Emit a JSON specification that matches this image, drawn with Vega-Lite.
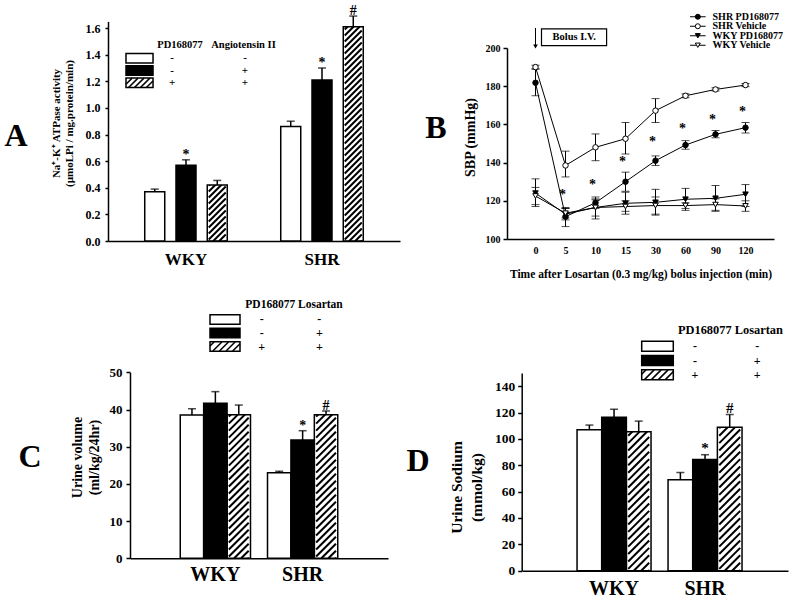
{
"$schema": "https://vega.github.io/schema/vega-lite/v6.json",
"width": 800, "height": 600,
"autosize": {"type": "none"},
"padding": 0,
"background": "white",
"config": {
  "view": {"stroke": null},
  "font": "Liberation Serif",
  "axis": {"labelFont": "Liberation Serif", "titleFont": "Liberation Serif", "labelFontWeight": "bold", "titleFontWeight": "bold", "labelColor": "black", "titleColor": "black", "domainColor": "black", "tickColor": "black", "domainWidth": 1.5, "tickWidth": 1.5, "grid": false, "labelOverlap": false, "labelFlush": false},
  "text": {"font": "Liberation Serif", "fontWeight": "bold", "color": "black"}
},
"datasets": {
  "one": [{"k": 1}],
  "a": [
    {"group": "WKY", "trt": "none", "value": 0.37, "hi": 0.39, "sig": ""},
    {"group": "WKY", "trt": "ang", "value": 0.57, "hi": 0.61, "sig": "*"},
    {"group": "WKY", "trt": "pd", "value": 0.42, "hi": 0.455, "sig": ""},
    {"group": "SHR", "trt": "none", "value": 0.86, "hi": 0.9, "sig": ""},
    {"group": "SHR", "trt": "ang", "value": 1.21, "hi": 1.3, "sig": "*"},
    {"group": "SHR", "trt": "pd", "value": 1.61, "hi": 1.69, "sig": "#"}
  ],
  "a_leg": [
    {"trt": "none", "PD168077": "-", "Angiotensin II": "-"},
    {"trt": "ang", "PD168077": "-", "Angiotensin II": "+"},
    {"trt": "pd", "PD168077": "+", "Angiotensin II": "+"}
  ],
  "c": [
    {"group": "WKY", "trt": "none", "value": 38.5, "hi": 40.2, "sig": ""},
    {"group": "WKY", "trt": "ang", "value": 41.7, "hi": 44.8, "sig": ""},
    {"group": "WKY", "trt": "pd", "value": 38.6, "hi": 41.2, "sig": ""},
    {"group": "SHR", "trt": "none", "value": 23.0, "hi": 23.4, "sig": ""},
    {"group": "SHR", "trt": "ang", "value": 31.8, "hi": 34.3, "sig": "*"},
    {"group": "SHR", "trt": "pd", "value": 38.6, "hi": 39.6, "sig": "#"}
  ],
  "c_leg": [
    {"trt": "none", "PD168077": "-", "Losartan": "-"},
    {"trt": "ang", "PD168077": "-", "Losartan": "+"},
    {"trt": "pd", "PD168077": "+", "Losartan": "+"}
  ],
  "d": [
    {"group": "WKY", "trt": "none", "value": 107, "hi": 110.5, "sig": ""},
    {"group": "WKY", "trt": "ang", "value": 116.5, "hi": 122.5, "sig": ""},
    {"group": "WKY", "trt": "pd", "value": 105.5, "hi": 113.5, "sig": ""},
    {"group": "SHR", "trt": "none", "value": 69, "hi": 74.5, "sig": ""},
    {"group": "SHR", "trt": "ang", "value": 84.3, "hi": 88, "sig": "*"},
    {"group": "SHR", "trt": "pd", "value": 108.8, "hi": 118.5, "sig": "#"}
  ],
  "d_leg": [
    {"trt": "none", "PD168077": "-", "Losartan": "-"},
    {"trt": "ang", "PD168077": "-", "Losartan": "+"},
    {"trt": "pd", "PD168077": "+", "Losartan": "+"}
  ],
  "b": [
    {"series": "SHR PD168077", "time": 0, "sbp": 181.8, "lo": 175, "hi": 189},
    {"series": "SHR PD168077", "time": 5, "sbp": 111.7, "lo": 106.5, "hi": 116.5},
    {"series": "SHR PD168077", "time": 10, "sbp": 119, "lo": 116, "hi": 122},
    {"series": "SHR PD168077", "time": 15, "sbp": 130, "lo": 125, "hi": 135},
    {"series": "SHR PD168077", "time": 30, "sbp": 141, "lo": 138.5, "hi": 143.5},
    {"series": "SHR PD168077", "time": 60, "sbp": 149.2, "lo": 147, "hi": 151.5},
    {"series": "SHR PD168077", "time": 90, "sbp": 154.8, "lo": 153, "hi": 156.8},
    {"series": "SHR PD168077", "time": 120, "sbp": 158.3, "lo": 155.5, "hi": 161},
    {"series": "SHR Vehicle", "time": 0, "sbp": 190, "lo": 189, "hi": 191},
    {"series": "SHR Vehicle", "time": 5, "sbp": 138.5, "lo": 132.5, "hi": 146},
    {"series": "SHR Vehicle", "time": 10, "sbp": 148, "lo": 141, "hi": 155},
    {"series": "SHR Vehicle", "time": 15, "sbp": 152.5, "lo": 144.5, "hi": 161},
    {"series": "SHR Vehicle", "time": 30, "sbp": 167.2, "lo": 161, "hi": 173.5},
    {"series": "SHR Vehicle", "time": 60, "sbp": 175, "lo": 174, "hi": 176},
    {"series": "SHR Vehicle", "time": 90, "sbp": 178.3, "lo": 177.5, "hi": 179.2},
    {"series": "SHR Vehicle", "time": 120, "sbp": 180.6, "lo": 179.8, "hi": 181.4},
    {"series": "WKY PD168077", "time": 0, "sbp": 124, "lo": 117, "hi": 131.5},
    {"series": "WKY PD168077", "time": 5, "sbp": 113, "lo": 110, "hi": 116},
    {"series": "WKY PD168077", "time": 10, "sbp": 116.5, "lo": 112, "hi": 121},
    {"series": "WKY PD168077", "time": 15, "sbp": 118.7, "lo": 113, "hi": 124.5},
    {"series": "WKY PD168077", "time": 30, "sbp": 119.2, "lo": 112.5, "hi": 126},
    {"series": "WKY PD168077", "time": 60, "sbp": 120.8, "lo": 115, "hi": 126.5},
    {"series": "WKY PD168077", "time": 90, "sbp": 121.3, "lo": 115, "hi": 128},
    {"series": "WKY PD168077", "time": 120, "sbp": 123.4, "lo": 117, "hi": 128.5},
    {"series": "WKY Vehicle", "time": 0, "sbp": 122.5, "lo": 118, "hi": 127},
    {"series": "WKY Vehicle", "time": 5, "sbp": 113.5, "lo": 111, "hi": 116},
    {"series": "WKY Vehicle", "time": 10, "sbp": 116.5, "lo": 110.5, "hi": 120.5},
    {"series": "WKY Vehicle", "time": 15, "sbp": 117, "lo": 114.5, "hi": 120},
    {"series": "WKY Vehicle", "time": 30, "sbp": 117.5, "lo": 113, "hi": 122},
    {"series": "WKY Vehicle", "time": 60, "sbp": 117.5, "lo": 116, "hi": 119},
    {"series": "WKY Vehicle", "time": 90, "sbp": 118, "lo": 114.5, "hi": 121},
    {"series": "WKY Vehicle", "time": 120, "sbp": 117.3, "lo": 114.5, "hi": 120}
  ],
  "b_sig": [
    {"time": 5, "sbp": 124}, {"time": 10, "sbp": 129.5}, {"time": 15, "sbp": 141.4},
    {"time": 30, "sbp": 151.8}, {"time": 60, "sbp": 158.8}, {"time": 90, "sbp": 163.2}, {"time": 120, "sbp": 167.5}
  ],
  "b_leg": [
    {"series": "SHR PD168077"}, {"series": "SHR Vehicle"}, {"series": "WKY PD168077"}, {"series": "WKY Vehicle"}
  ]
},
"resolve": {"scale": {"x": "independent", "y": "independent", "xOffset": "independent", "fill": "independent", "shape": "independent"}, "axis": {"x": "independent", "y": "independent"}},
"layer": [
  {
    "data": {"name": "a"},
    "encoding": {
      "x": {"field": "group", "type": "nominal", "scale": {"type": "band", "domain": ["WKY", "SHR"], "range": [108, 400], "paddingInner": 0.316, "paddingOuter": 0.2315}, "axis": {"orient": "bottom", "offset": -359, "title": null, "labelFontSize": 17, "ticks": false, "tickSize": 0, "labelPadding": 10, "labelAngle": 0}},
      "xOffset": {"field": "trt", "type": "nominal", "scale": {"type": "band", "domain": ["none", "ang", "pd"], "paddingInner": 0.36, "paddingOuter": 0.168}},
      "y": {"field": "value", "type": "quantitative", "scale": {"domain": [0, 1.65], "range": [241, 21.4], "nice": false}, "axis": {"orient": "left", "offset": -108, "values": [0, 0.2, 0.4, 0.6, 0.8, 1.0, 1.2, 1.4, 1.6], "format": ".1f", "title": ["Na⁺-K⁺ ATPase activity", "(µmoLPi / mg.protein/min)"], "titleFontSize": 11, "titleLineHeight": 13, "labelFontSize": 12, "tickSize": 3, "labelPadding": 5, "titlePadding": 11, "titleY": 123}}
    },
    "layer": [
      {"transform": [{"filter": "datum.trt === 'pd'"}], "mark": {"type": "point", "shape": "M0.8 0L0.85 -0.05M0.2 0L0.85 -0.65M-0.4 0L0.85 -1.25M-0.85 -0.15L0.85 -1.85M-0.85 -0.75L0.85 -2.45M-0.85 -1.35L0.85 -3.05M-0.85 -1.95L0.85 -3.65M-0.85 -2.55L0.85 -4.25M-0.85 -3.15L0.85 -4.85M-0.85 -3.75L0.85 -5.45M-0.85 -4.35L0.85 -6.05M-0.85 -4.95L0.85 -6.65M-0.85 -5.55L0.85 -7.25M-0.85 -6.15L0.85 -7.85M-0.85 -6.75L0.85 -8.45M-0.85 -7.35L0.85 -9.05M-0.85 -7.95L0.85 -9.65M-0.85 -8.55L0.85 -10.25M-0.85 -9.15L0.85 -10.85M-0.85 -9.75L0.85 -11.45M-0.85 -10.35L0.85 -12.05M-0.85 -10.95L0.85 -12.65M-0.85 -11.55L0.85 -13.25M-0.85 -12.15L0.85 -13.85M-0.85 -12.75L0.85 -14.45M-0.85 -13.35L0.85 -15.05M-0.85 -13.95L0.85 -15.65M-0.85 -14.55L0.85 -16.25M-0.85 -15.15L0.85 -16.85M-0.85 -15.75L0.85 -17.45M-0.85 -16.35L0.85 -18.05M-0.85 -16.95L0.85 -18.65M-0.85 -17.55L0.85 -19.25M-0.85 -18.15L0.85 -19.85M-0.85 -18.75L0.85 -20.45M-0.85 -19.35L0.85 -21.05M-0.85 -19.95L0.85 -21.65M-0.85 -20.55L0.6 -22M-0.85 -21.15L0 -22M-0.85 -21.75L-0.6 -22", "size": 400, "filled": false, "stroke": "black", "strokeWidth": 2, "opacity": 1}, "encoding": {"y": {"datum": 0, "type": "quantitative"}}},
      {"transform": [{"filter": "datum.trt === 'pd'"}], "mark": {"type": "bar", "fill": "white", "strokeWidth": 0}, "encoding": {"y2": {"datum": 1.66}}},
      {"mark": {"type": "bar", "stroke": "black", "strokeWidth": 1.5}, "encoding": {"fill": {"field": "trt", "type": "nominal", "scale": {"domain": ["none", "ang", "pd"], "range": ["white", "black", "transparent"]}, "legend": null}}},
      {"mark": {"type": "rule", "color": "black", "strokeWidth": 1.5}, "encoding": {"y2": {"field": "hi"}}},
      {"mark": {"type": "tick", "orient": "horizontal", "size": 8, "thickness": 1.5, "color": "black"}, "encoding": {"y": {"field": "hi", "type": "quantitative"}}},
      {"mark": {"type": "text", "baseline": "alphabetic", "dy": -1, "fontSize": 14, "fill": "black"}, "encoding": {"y": {"field": "hi", "type": "quantitative"}, "text": {"field": "sig"}}}
    ]
  },
  {
    "data": {"name": "a_leg"},
    "encoding": {"y": {"field": "trt", "type": "nominal", "scale": {"type": "point", "domain": ["none", "ang", "pd"], "range": [52, 89]}, "axis": null}},
    "layer": [
      {"mark": {"type": "bar", "height": 9.5, "stroke": "black", "strokeWidth": 1.5}, "encoding": {"x": {"datum": 0, "type": "quantitative", "scale": {"domain": [0, 1], "range": [126, 277], "nice": false, "zero": false}, "axis": null}, "x2": {"datum": 0.179}, "fill": {"field": "trt", "type": "nominal", "scale": {"domain": ["none", "ang", "pd"], "range": ["white", "black", "white"]}, "legend": null}}},
      {"transform": [{"filter": "datum.trt === 'pd'"}], "mark": {"type": "point", "shape": "M0.51 0.35L1 -0.14M0.07 0.35L0.77 -0.35M-0.37 0.35L0.33 -0.35M-0.81 0.35L-0.11 -0.35M-1 0.1L-0.55 -0.35", "size": 729, "filled": false, "stroke": "black", "strokeWidth": 1.5, "opacity": 1}, "encoding": {"x": {"datum": 0.0894, "type": "quantitative", "axis": null}}},
      {"mark": {"type": "text", "fontSize": 11, "fill": "black"}, "encoding": {"x": {"datum": 0.305, "type": "quantitative", "axis": null}, "text": {"field": "PD168077"}}},
      {"mark": {"type": "text", "fontSize": 11, "fill": "black"}, "encoding": {"x": {"datum": 0.788, "type": "quantitative", "axis": null}, "text": {"field": "Angiotensin II"}}},
      {"data": {"name": "one"}, "mark": {"type": "text", "fontSize": 10.5, "dy": -13, "fill": "black"}, "encoding": {"x": {"datum": 0.358, "type": "quantitative", "axis": null}, "y": {"datum": "none", "type": "nominal", "axis": null}, "text": {"value": "PD168077"}}},
      {"data": {"name": "one"}, "mark": {"type": "text", "fontSize": 10.5, "dy": -13, "fill": "black"}, "encoding": {"x": {"datum": 0.778, "type": "quantitative", "axis": null}, "y": {"datum": "none", "type": "nominal", "axis": null}, "text": {"value": "Angiotensin II"}}}
    ]
  },
  {
    "data": {"name": "b"},
    "encoding": {
      "x": {"field": "time", "type": "ordinal", "scale": {"type": "point", "domain": [0, 5, 10, 15, 30, 60, 90, 120], "range": [507, 774], "padding": 0.95}, "axis": {"orient": "bottom", "offset": -361, "title": "Time after Losartan (0.3 mg/kg) bolus injection (min)", "titleFontSize": 11.5, "labelFontSize": 10, "ticks": false, "tickSize": 0, "labelPadding": 6, "titlePadding": 13, "labelAngle": 0}},
      "y": {"field": "sbp", "type": "quantitative", "scale": {"domain": [100, 200], "range": [239, 48], "nice": false, "zero": false}, "axis": {"orient": "left", "offset": -507, "values": [100, 120, 140, 160, 180, 200], "title": "SBP (mmHg)", "titleFontSize": 14, "labelFontSize": 10, "tickSize": 4, "labelPadding": 3, "titlePadding": 8, "titleY": 137}}
    },
    "layer": [
      {"mark": {"type": "rule", "color": "black", "strokeWidth": 1}, "encoding": {"y": {"field": "lo", "type": "quantitative"}, "y2": {"field": "hi"}}},
      {"mark": {"type": "tick", "orient": "horizontal", "size": 8, "thickness": 1, "color": "black"}, "encoding": {"y": {"field": "lo", "type": "quantitative"}}},
      {"mark": {"type": "tick", "orient": "horizontal", "size": 8, "thickness": 1, "color": "black"}, "encoding": {"y": {"field": "hi", "type": "quantitative"}}},
      {"mark": {"type": "line", "color": "black", "strokeWidth": 1}, "encoding": {"detail": {"field": "series", "type": "nominal"}}},
      {"mark": {"type": "point", "filled": true, "opacity": 1, "stroke": "black", "strokeWidth": 1, "size": 30}, "encoding": {
        "shape": {"field": "series", "type": "nominal", "scale": {"domain": ["SHR PD168077", "SHR Vehicle", "WKY PD168077", "WKY Vehicle"], "range": ["circle", "circle", "triangle-down", "triangle-down"]}, "legend": null},
        "fill": {"field": "series", "type": "nominal", "scale": {"domain": ["SHR PD168077", "SHR Vehicle", "WKY PD168077", "WKY Vehicle"], "range": ["black", "white", "black", "white"]}, "legend": null}}},
      {"data": {"name": "b_sig"}, "mark": {"type": "text", "text": "*", "fontSize": 14, "dx": -3, "dy": 6, "baseline": "alphabetic", "fill": "black"}}
    ]
  },
  {
    "data": {"name": "one"},
    "layer": [
      {"mark": {"type": "rect", "fill": "white", "stroke": "black", "strokeWidth": 1.2}, "encoding": {"x": {"datum": 0.2, "type": "quantitative", "scale": {"domain": [-0.95, 7.95], "range": [507, 774], "nice": false, "zero": false}, "axis": null}, "x2": {"datum": 2.37}, "y": {"datum": 210, "type": "quantitative", "scale": {"domain": [100, 200], "range": [239, 48], "nice": false, "zero": false}, "axis": null}, "y2": {"datum": 201.2}}},
      {"mark": {"type": "text", "fontSize": 10.5, "fill": "black"}, "encoding": {"x": {"datum": 1.29, "type": "quantitative", "axis": null}, "y": {"datum": 205.6, "type": "quantitative", "axis": null}, "text": {"value": "Bolus I.V."}}},
      {"mark": {"type": "rule", "color": "black", "strokeWidth": 1}, "encoding": {"x": {"datum": 0, "type": "quantitative", "axis": null}, "y": {"datum": 210.5, "type": "quantitative", "axis": null}, "y2": {"datum": 201}}},
      {"mark": {"type": "point", "shape": "triangle-down", "filled": true, "color": "black", "opacity": 1, "size": 22}, "encoding": {"x": {"datum": 0, "type": "quantitative", "axis": null}, "y": {"datum": 200.8, "type": "quantitative", "axis": null}}}
    ]
  },
  {
    "data": {"name": "b_leg"},
    "encoding": {"y": {"field": "series", "type": "nominal", "scale": {"type": "point", "domain": ["SHR PD168077", "SHR Vehicle", "WKY PD168077", "WKY Vehicle"], "range": [12, 50]}, "axis": null}},
    "layer": [
      {"mark": {"type": "rule", "color": "black", "strokeWidth": 1}, "encoding": {"x": {"datum": 0, "type": "quantitative", "scale": {"domain": [0, 1], "range": [690, 782], "nice": false, "zero": false}, "axis": null}, "x2": {"datum": 0.17}}},
      {"mark": {"type": "point", "filled": true, "opacity": 1, "stroke": "black", "strokeWidth": 1, "size": 25}, "encoding": {"x": {"datum": 0.085, "type": "quantitative", "axis": null},
        "shape": {"field": "series", "type": "nominal", "scale": {"domain": ["SHR PD168077", "SHR Vehicle", "WKY PD168077", "WKY Vehicle"], "range": ["circle", "circle", "triangle-down", "triangle-down"]}, "legend": null},
        "fill": {"field": "series", "type": "nominal", "scale": {"domain": ["SHR PD168077", "SHR Vehicle", "WKY PD168077", "WKY Vehicle"], "range": ["black", "white", "black", "white"]}, "legend": null}}},
      {"mark": {"type": "text", "align": "left", "fontSize": 10, "fill": "black"}, "encoding": {"x": {"datum": 0.245, "type": "quantitative", "axis": null}, "text": {"field": "series"}}}
    ]
  },
  {
    "data": {"name": "c"},
    "encoding": {
      "x": {"field": "group", "type": "nominal", "scale": {"type": "band", "domain": ["WKY", "SHR"], "range": [130, 388], "paddingInner": 0.195, "paddingOuter": 0.576}, "axis": {"orient": "bottom", "offset": -41.7, "title": null, "labelFontSize": 20, "ticks": false, "tickSize": 0, "labelPadding": 6, "labelAngle": 0}},
      "xOffset": {"field": "trt", "type": "nominal", "scale": {"type": "band", "domain": ["none", "ang", "pd"], "paddingInner": 0, "paddingOuter": 0}},
      "y": {"field": "value", "type": "quantitative", "scale": {"domain": [0, 50], "range": [558.3, 372.3], "nice": false}, "axis": {"orient": "left", "offset": -130, "values": [0, 10, 20, 30, 40, 50], "title": ["Urine volume", "(ml/kg/24hr)"], "titleFontSize": 14, "titleLineHeight": 17, "labelFontSize": 13, "tickSize": 4, "labelPadding": 4, "titlePadding": 8, "titleY": 457}}
    },
    "layer": [
      {"transform": [{"filter": "datum.trt === 'pd'"}], "mark": {"type": "point", "shape": "M0.8 0L0.85 -0.05M0.2 0L0.85 -0.65M-0.4 0L0.85 -1.25M-0.85 -0.15L0.85 -1.85M-0.85 -0.75L0.85 -2.45M-0.85 -1.35L0.85 -3.05M-0.85 -1.95L0.85 -3.65M-0.85 -2.55L0.85 -4.25M-0.85 -3.15L0.85 -4.85M-0.85 -3.75L0.85 -5.45M-0.85 -4.35L0.85 -6.05M-0.85 -4.95L0.85 -6.65M-0.85 -5.55L0.85 -7.25M-0.85 -6.15L0.85 -7.85M-0.85 -6.75L0.85 -8.45M-0.85 -7.35L0.85 -9.05M-0.85 -7.95L0.85 -9.65M-0.85 -8.55L0.85 -10.25M-0.85 -9.15L0.85 -10.85M-0.85 -9.75L0.85 -11.45M-0.85 -10.35L0.85 -12.05M-0.85 -10.95L0.85 -12.65M-0.85 -11.55L0.6 -13M-0.85 -12.15L0 -13M-0.85 -12.75L-0.6 -13", "size": 544, "filled": false, "stroke": "black", "strokeWidth": 2, "opacity": 1}, "encoding": {"y": {"datum": 0, "type": "quantitative"}}},
      {"transform": [{"filter": "datum.trt === 'pd'"}], "mark": {"type": "bar", "fill": "white", "strokeWidth": 0}, "encoding": {"y2": {"datum": 41}}},
      {"mark": {"type": "bar", "stroke": "black", "strokeWidth": 1.5}, "encoding": {"fill": {"field": "trt", "type": "nominal", "scale": {"domain": ["none", "ang", "pd"], "range": ["white", "black", "transparent"]}, "legend": null}}},
      {"mark": {"type": "rule", "color": "black", "strokeWidth": 1.5}, "encoding": {"y2": {"field": "hi"}}},
      {"mark": {"type": "tick", "orient": "horizontal", "size": 8, "thickness": 1.5, "color": "black"}, "encoding": {"y": {"field": "hi", "type": "quantitative"}}},
      {"mark": {"type": "text", "baseline": "alphabetic", "dy": -1, "fontSize": 14, "fill": "black"}, "encoding": {"y": {"field": "hi", "type": "quantitative"}, "text": {"field": "sig"}}}
    ]
  },
  {
    "data": {"name": "c_leg"},
    "encoding": {"y": {"field": "trt", "type": "nominal", "scale": {"type": "point", "domain": ["none", "ang", "pd"], "range": [312.7, 353.3]}, "axis": null}},
    "layer": [
      {"mark": {"type": "bar", "height": 9.5, "stroke": "black", "strokeWidth": 1.5}, "encoding": {"x": {"datum": 0, "type": "quantitative", "scale": {"domain": [0, 1], "range": [210, 343], "nice": false, "zero": false}, "axis": null}, "x2": {"datum": 0.2256}, "fill": {"field": "trt", "type": "nominal", "scale": {"domain": ["none", "ang", "pd"], "range": ["white", "black", "white"]}, "legend": null}}},
      {"transform": [{"filter": "datum.trt === 'pd'"}], "mark": {"type": "point", "shape": "M0.51 0.3L1 -0.19M0.07 0.3L0.67 -0.3M-0.37 0.3L0.23 -0.3M-0.81 0.3L-0.21 -0.3M-1 -0.03L-0.73 -0.3", "size": 900, "filled": false, "stroke": "black", "strokeWidth": 1.5, "opacity": 1}, "encoding": {"x": {"datum": 0.1128, "type": "quantitative", "axis": null}}},
      {"mark": {"type": "text", "fontSize": 12, "fill": "black"}, "encoding": {"x": {"datum": 0.389, "type": "quantitative", "axis": null}, "text": {"field": "PD168077"}}},
      {"mark": {"type": "text", "fontSize": 12, "fill": "black"}, "encoding": {"x": {"datum": 0.822, "type": "quantitative", "axis": null}, "text": {"field": "Losartan"}}},
      {"data": {"name": "one"}, "mark": {"type": "text", "fontSize": 11.5, "dy": -14.4, "fill": "black"}, "encoding": {"x": {"datum": 0.632, "type": "quantitative", "axis": null}, "y": {"datum": "none", "type": "nominal", "axis": null}, "text": {"value": "PD168077 Losartan"}}}
    ]
  },
  {
    "data": {"name": "d"},
    "encoding": {
      "x": {"field": "group", "type": "nominal", "scale": {"type": "band", "domain": ["WKY", "SHR"], "range": [522, 788], "paddingInner": 0.187, "paddingOuter": 0.555, "align": 0.545}, "axis": {"orient": "bottom", "offset": -29.3, "title": null, "labelFontSize": 20, "ticks": false, "tickSize": 0, "labelPadding": 8, "labelAngle": 0}},
      "xOffset": {"field": "trt", "type": "nominal", "scale": {"type": "band", "domain": ["none", "ang", "pd"], "paddingInner": 0, "paddingOuter": 0}},
      "y": {"field": "value", "type": "quantitative", "scale": {"domain": [0, 150], "range": [570.7, 373], "nice": false}, "axis": {"orient": "left", "offset": -521.7, "values": [0, 20, 40, 60, 80, 100, 120, 140], "title": ["Urine Sodium", "(mmol/kg)"], "titleFontSize": 15.5, "titleLineHeight": 20, "labelFontSize": 13.5, "tickSize": 4, "labelPadding": 3, "titlePadding": 10, "titleY": 487}}
    },
    "layer": [
      {"transform": [{"filter": "datum.trt === 'pd'"}], "mark": {"type": "point", "shape": "M0.8 0L0.85 -0.05M0.2 0L0.85 -0.65M-0.4 0L0.85 -1.25M-0.85 -0.15L0.85 -1.85M-0.85 -0.75L0.85 -2.45M-0.85 -1.35L0.85 -3.05M-0.85 -1.95L0.85 -3.65M-0.85 -2.55L0.85 -4.25M-0.85 -3.15L0.85 -4.85M-0.85 -3.75L0.85 -5.45M-0.85 -4.35L0.85 -6.05M-0.85 -4.95L0.85 -6.65M-0.85 -5.55L0.85 -7.25M-0.85 -6.15L0.85 -7.85M-0.85 -6.75L0.85 -8.45M-0.85 -7.35L0.85 -9.05M-0.85 -7.95L0.85 -9.65M-0.85 -8.55L0.85 -10.25M-0.85 -9.15L0.85 -10.85M-0.85 -9.75L0.85 -11.45M-0.85 -10.35L0.85 -12.05M-0.85 -10.95L0.85 -12.65M-0.85 -11.55L0.6 -13M-0.85 -12.15L0 -13M-0.85 -12.75L-0.6 -13", "size": 608, "filled": false, "stroke": "black", "strokeWidth": 2, "opacity": 1}, "encoding": {"y": {"datum": 0, "type": "quantitative"}}},
      {"transform": [{"filter": "datum.trt === 'pd'"}], "mark": {"type": "bar", "fill": "white", "strokeWidth": 0}, "encoding": {"y2": {"datum": 122}}},
      {"mark": {"type": "bar", "stroke": "black", "strokeWidth": 1.5}, "encoding": {"fill": {"field": "trt", "type": "nominal", "scale": {"domain": ["none", "ang", "pd"], "range": ["white", "black", "transparent"]}, "legend": null}}},
      {"mark": {"type": "rule", "color": "black", "strokeWidth": 1.5}, "encoding": {"y2": {"field": "hi"}}},
      {"mark": {"type": "tick", "orient": "horizontal", "size": 8, "thickness": 1.5, "color": "black"}, "encoding": {"y": {"field": "hi", "type": "quantitative"}}},
      {"mark": {"type": "text", "baseline": "alphabetic", "dy": -2, "fontSize": 15, "fill": "black"}, "encoding": {"y": {"field": "hi", "type": "quantitative"}, "text": {"field": "sig"}}}
    ]
  },
  {
    "data": {"name": "d_leg"},
    "encoding": {"y": {"field": "trt", "type": "nominal", "scale": {"type": "point", "domain": ["none", "ang", "pd"], "range": [339.3, 381.7]}, "axis": null}},
    "layer": [
      {"mark": {"type": "bar", "height": 10, "stroke": "black", "strokeWidth": 1.5}, "encoding": {"x": {"datum": 0, "type": "quantitative", "scale": {"domain": [0, 1], "range": [641.7, 783], "nice": false, "zero": false}, "axis": null}, "x2": {"datum": 0.2236}, "fill": {"field": "trt", "type": "nominal", "scale": {"domain": ["none", "ang", "pd"], "range": ["white", "black", "white"]}, "legend": null}}},
      {"transform": [{"filter": "datum.trt === 'pd'"}], "mark": {"type": "point", "shape": "M0.51 0.3L1 -0.19M0.07 0.3L0.67 -0.3M-0.37 0.3L0.23 -0.3M-0.81 0.3L-0.21 -0.3M-1 -0.03L-0.73 -0.3", "size": 998, "filled": false, "stroke": "black", "strokeWidth": 1.5, "opacity": 1}, "encoding": {"x": {"datum": 0.1118, "type": "quantitative", "axis": null}}},
      {"mark": {"type": "text", "fontSize": 12, "fill": "black"}, "encoding": {"x": {"datum": 0.377, "type": "quantitative", "axis": null}, "text": {"field": "PD168077"}}},
      {"mark": {"type": "text", "fontSize": 12, "fill": "black"}, "encoding": {"x": {"datum": 0.818, "type": "quantitative", "axis": null}, "text": {"field": "Losartan"}}},
      {"data": {"name": "one"}, "mark": {"type": "text", "fontSize": 12.4, "dy": -16, "fill": "black"}, "encoding": {"x": {"datum": 0.628, "type": "quantitative", "axis": null}, "y": {"datum": "none", "type": "nominal", "axis": null}, "text": {"value": "PD168077 Losartan"}}}
    ]
  },
  {
    "data": {"name": "one"},
    "layer": [
      {"mark": {"type": "text", "fontSize": 32, "fill": "black"}, "encoding": {"x": {"datum": 0.02, "type": "quantitative", "scale": {"domain": [0, 1], "range": [0, 800], "nice": false, "zero": false}, "axis": null}, "y": {"datum": 0.2267, "type": "quantitative", "scale": {"domain": [0, 1], "range": [0, 600], "nice": false, "zero": false}, "axis": null}, "text": {"value": "A"}}},
      {"mark": {"type": "text", "fontSize": 32, "fill": "black"}, "encoding": {"x": {"datum": 0.545, "type": "quantitative", "axis": null}, "y": {"datum": 0.2133, "type": "quantitative", "axis": null}, "text": {"value": "B"}}},
      {"mark": {"type": "text", "fontSize": 32, "fill": "black"}, "encoding": {"x": {"datum": 0.0375, "type": "quantitative", "axis": null}, "y": {"datum": 0.7617, "type": "quantitative", "axis": null}, "text": {"value": "C"}}},
      {"mark": {"type": "text", "fontSize": 32, "fill": "black"}, "encoding": {"x": {"datum": 0.5225, "type": "quantitative", "axis": null}, "y": {"datum": 0.7683, "type": "quantitative", "axis": null}, "text": {"value": "D"}}}
    ]
  }
]
}
